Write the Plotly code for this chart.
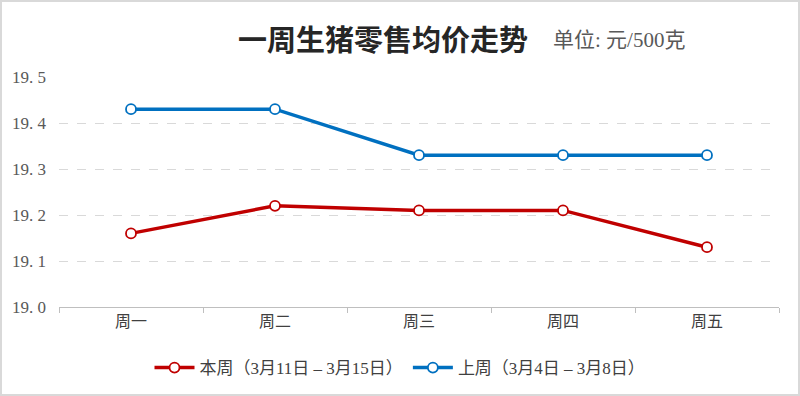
import plotly.graph_objects as go

categories = ["周一", "周二", "周三", "周四", "周五"]
this_week = [19.16, 19.22, 19.21, 19.21, 19.13]
last_week = [19.43, 19.43, 19.33, 19.33, 19.33]
this_week_name = "本周（3月11日 – 3月15日）"
last_week_name = "上周（3月4日 – 3月8日）"
ytick_vals = [19.0, 19.1, 19.2, 19.3, 19.4, 19.5]
ytick_text = ["19. 0", "19. 1", "19. 2", "19. 3", "19. 4", "19. 5"]
title_text = "一周生猪零售均价走势"
unit_text = "单位: 元/500克"

FONT = "Liberation Serif, Noto Sans CJK SC"
L, R, T, B = 59, 21, 77, 89
PW, PH = 800 - L - R, 396 - T - B

fig = go.Figure()
fig.add_trace(go.Scatter(
    x=categories, y=this_week, name=this_week_name, mode="lines+markers",
    line=dict(color="#C00000", width=3.5),
    marker=dict(symbol="circle", size=10, color="white", line=dict(color="#C00000", width=1.8)),
))
fig.add_trace(go.Scatter(
    x=categories, y=last_week, name=last_week_name, mode="lines+markers",
    line=dict(color="#0070C0", width=3.5),
    marker=dict(symbol="circle", size=10, color="white", line=dict(color="#0070C0", width=1.8)),
))

fig.update_layout(
    width=800, height=396,
    margin=dict(l=L, r=R, t=T, b=B, autoexpand=False),
    paper_bgcolor="white", plot_bgcolor="white",
    font=dict(family=FONT, color="#595959", size=13),
    showlegend=True,
    legend=dict(orientation="h", x=0.5, xanchor="center", xref="container",
                y=1 - 368 / 396, yanchor="middle", yref="container",
                font=dict(family=FONT, size=17, color="#404040"), itemwidth=40),
    xaxis=dict(type="category", showgrid=False, showline=True, linecolor="#BFBFBF", linewidth=1,
               ticks="outside", tickson="boundaries", ticklen=5, tickcolor="#BFBFBF",
               automargin=False,
               tickfont=dict(family=FONT, size=16, color="#404040"), range=[-0.5, 4.5]),
    yaxis=dict(range=[19.0, 19.5], tickvals=ytick_vals, ticktext=ytick_text,
               showgrid=True, gridcolor="#D9D9D9", griddash="dash", gridwidth=1,
               zeroline=False, showline=False, ticks="", ticklabelstandoff=12,
               automargin=False,
               tickfont=dict(family=FONT, size=17, color="#595959")),
    annotations=[
        dict(text="<b>" + title_text + "</b>", xref="paper", yref="paper", x=(383 - L) / PW, y=1 + (T - 38) / PH,
             xanchor="center", yanchor="middle", showarrow=False,
             font=dict(family="Noto Sans CJK SC", size=29, color="#262626")),
        dict(text=unit_text, xref="paper", yref="paper", x=(551 - L) / PW, y=1 + (T - 40) / PH,
             xanchor="left", yanchor="middle", showarrow=False,
             font=dict(family=FONT, size=21, color="#595959")),
    ],
    shapes=[dict(type="rect", xref="paper", yref="paper", x0=-(L - 1) / PW, x1=1 + (R - 1) / PW,
                 y0=-(B - 1) / PH, y1=1 + (T - 1) / PH, line=dict(color="#D9D9D9", width=2))],
)

fig.write_html("out.html", config={"displayModeBar": False},
               post_script="document.body.style.margin='0';document.body.style.padding='0';")
